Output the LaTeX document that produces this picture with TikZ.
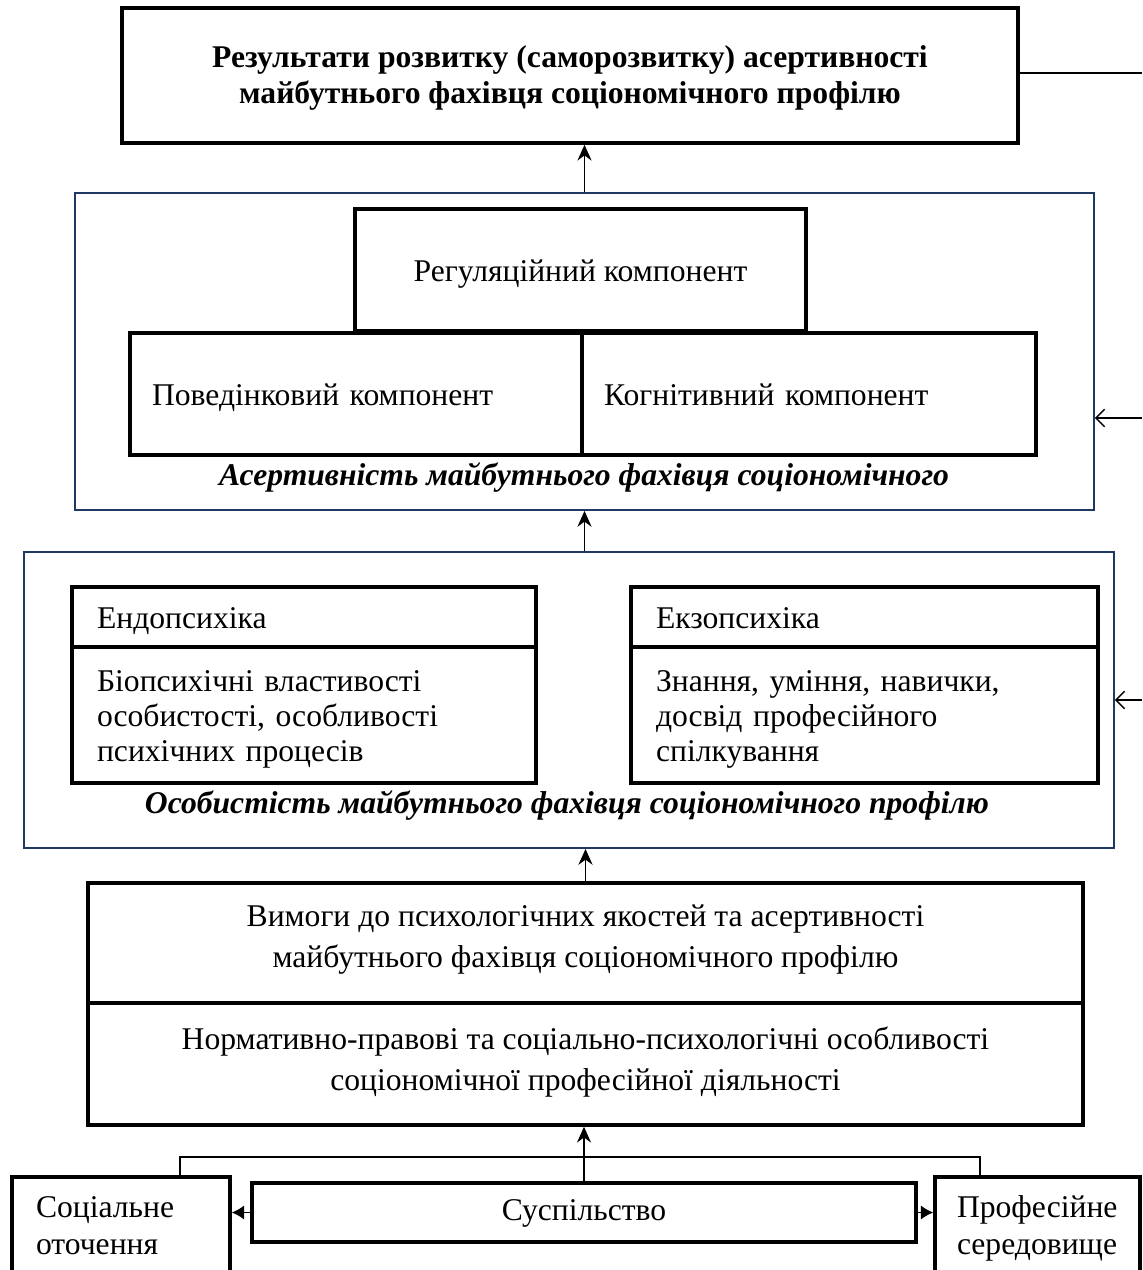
\documentclass[tikz,border=0pt]{standalone}
\usepackage{fontspec}
\setmainfont{Liberation Serif}
\usetikzlibrary{arrows.meta}
\definecolor{navy}{HTML}{1F3864}
\tikzset{every picture/.style={x=0.02cm,y=-0.02cm},
  blk/.style={draw=black, line width=2pt, inner sep=0pt, align=center, font=\fontsize{18}{23}\selectfont},
  lblk/.style={blk, align=left, inner xsep=0.5cm, text width=#1},
  txtlow/.style={text height=#1, text depth=0pt},
  txthigh/.style={text height=0pt, text depth=#1},
  outer/.style={draw=navy, line width=1.1pt, inner sep=0pt},
  captxt/.style={inner sep=0pt, anchor=base, font=\fontsize{18}{21}\selectfont\bfseries\itshape},
  uparr/.style={line width=0.8pt, -{Stealth[length=9pt,width=8pt]}},
  sidearr/.style={line width=0.8pt, -{Straight Barb[length=5pt,width=10pt]}},
  lowarr/.style={line width=0.8pt, -{Latex[length=7pt,width=8pt]}}}

\begin{document}
\begin{tikzpicture}
  \useasboundingbox (0,0) rectangle (1142,1270);
  \coordinate (edge) at (1142,0);
  % results
  \node[blk, font=\fontsize{18}{20.5}\selectfont\bfseries, txtlow=1.14cm, minimum width=17.92cm, minimum height=2.7cm] (res) at (570,75.5)
    {Результати розвитку (саморозвитку) асертивності\\майбутнього фахівця соціономічного профілю};
  % assertiveness
  \node[outer, minimum width=20.38cm, minimum height=6.34cm] (asert) at (584.5,351.5) {};
  \node[blk, txtlow=0.48cm, minimum width=9.02cm, minimum height=2.44cm] (reg) at (580.5,270) {Регуляційний компонент};
  \node[lblk=8.16cm, inner xsep=0.44cm, txtlow=0.44cm, minimum height=2.44cm] (beh) at (356,394) {Поведінковий компонент};
  \node[lblk=8.2cm, inner xsep=0.44cm, txtlow=0.44cm, minimum height=2.44cm] (cog) at (809,394) {Когнітивний компонент};
  \node[captxt] (asertcap) at (584,485) {Асертивність майбутнього фахівця соціономічного};
  % personality
  \node[outer, minimum width=21.8cm, minimum height=5.92cm] (pers) at (569,700) {};
  \node[lblk=8.28cm, txtlow=0.44cm, minimum height=1.2cm] (endo) at (304,617) {Ендопсихіка};
  \node[lblk=8.28cm, txthigh=0.96cm, minimum height=2.72cm, font=\fontsize{18}{20}\selectfont] (endobody) at (304,715)
    {Біопсихічні властивості\\особистості, особливості\\психічних процесів};
  \node[lblk=8.34cm, txtlow=0.44cm, minimum height=1.2cm] (exo) at (864.5,617) {Екзопсихіка};
  \node[lblk=8.34cm, txthigh=0.96cm, minimum height=2.72cm, font=\fontsize{18}{20}\selectfont] (exobody) at (864.5,715)
    {Знання, уміння, навички,\\досвід професійного\\спілкування};
  \node[captxt] (perscap) at (567,813) {Особистість майбутнього фахівця соціономічного профілю};
  % requirements
  \node[blk, txtlow=0.96cm, minimum width=19.9cm, minimum height=2.4cm] (req) at (585.5,943)
    {Вимоги до психологічних якостей та асертивності\\майбутнього фахівця соціономічного профілю};
  \node[blk, txtlow=1.04cm, minimum width=19.9cm, minimum height=2.44cm] (norm) at (585.5,1064)
    {Нормативно-правові та соціально-психологічні особливості\\соціономічної професійної діяльності};
  % society
  \node[blk, txtlow=0.3cm, minimum width=13.28cm, minimum height=1.18cm] (sus) at (584,1212.5) {Суспільство};
  \node[lblk=3.4cm, inner xsep=0.48cm, txthigh=0.56cm, minimum height=2.16cm, font=\fontsize{18}{21.6}\selectfont] (soc) at (121,1231) {Соціальне\\оточення};
  \node[lblk=3.22cm, inner xsep=0.44cm, txthigh=0.56cm, minimum height=2.16cm, font=\fontsize{18}{21.6}\selectfont] (prof) at (1037.5,1231) {Професійне\\середовище};
  \coordinate (bl) at (180,1157);
  \coordinate (br) at (980,1157);

  \draw[uparr] (asert.north) -- (asert.north |- res.south);
  \draw[uparr] (asert.south |- pers.north) -- (asert.south);
  \draw[uparr] (req.north) -- (req.north |- pers.south);
  \draw[uparr] (sus.north) -- (sus.north |- norm.south);
  \draw[line width=0.6pt] (bl |- soc.north) -- (bl) -- (br) -- (br |- prof.north);
  \draw[lowarr] (sus.west) -- (sus.west -| soc.east);
  \draw[lowarr] (sus.east) -- (sus.east -| prof.west);
  \draw[line width=0.8pt] (res.east |- 0,73) -- (edge |- 0,73);
  \draw[sidearr] (edge |- 0,418) -- (asert.east |- 0,418);
  \draw[sidearr] (edge |- 0,700) -- (pers.east |- 0,700);
\end{tikzpicture}
\end{document}
